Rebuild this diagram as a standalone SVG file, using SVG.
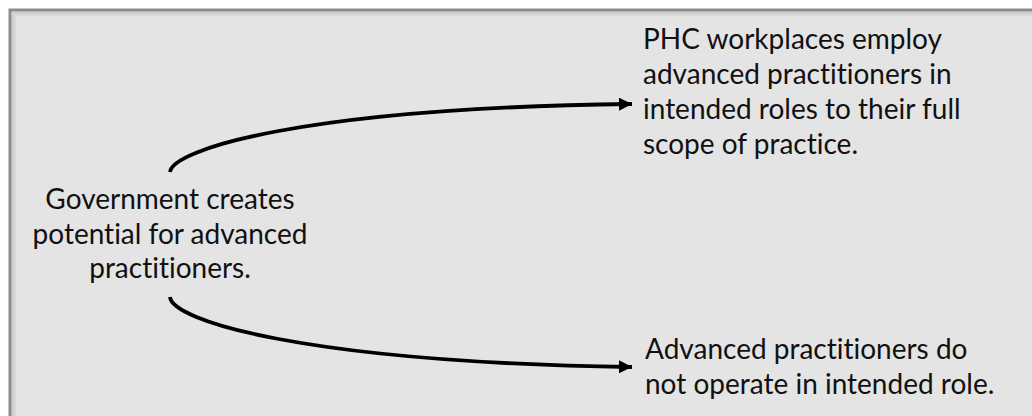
<svg xmlns="http://www.w3.org/2000/svg" width="1032" height="416" viewBox="0 0 1032 416">
  <style>
    .lbl { font-family: Lato, "Liberation Sans", sans-serif; font-size: 28px; fill: #111; font-variant-ligatures: none; font-feature-settings: "liga" 0, "dlig" 0; }
    .mid { text-anchor: middle; }
    .conn { fill: none; stroke: #000; stroke-width: 3.8; marker-end: url(#head); }
  </style>
  <defs>
    <marker id="head" viewBox="0 0 13 13" refX="13" refY="6.5" markerWidth="13" markerHeight="13" markerUnits="userSpaceOnUse" orient="auto">
      <path d="M0,0 L13,6.5 L0,13 Z" fill="#000"/>
    </marker>
  </defs>

  <!-- panel -->
  <rect width="1032" height="416" fill="#fff"/>
  <rect x="10" y="10" width="1040" height="430" fill="#e4e4e4"/>
  <!-- inner shading along top and left edges -->
  <path d="M13,440 V13 H1040" fill="none" stroke="#cfcfcf" stroke-width="2"/>
  <path d="M15,440 V15 H1040" fill="none" stroke="#d9d9d9" stroke-width="2"/>
  <path d="M10,440 V10 H1040" fill="none" stroke="#8c8c8c" stroke-width="3"/>

  <g id="connectors">
    <path class="conn" d="M170,172 C172,150 300,108 632,104"/>
    <path class="conn" d="M170,297 C172,320 300,362 632,367"/>
  </g>

  <g id="node-government">
    <text class="lbl mid" x="170" y="209">Government creates</text>
    <text class="lbl mid" x="170" y="244">potential for advanced</text>
    <text class="lbl mid" x="170" y="278">practitioners.</text>
  </g>

  <g id="node-full-scope">
    <text class="lbl" x="643" y="49">PHC workplaces employ</text>
    <text class="lbl" x="643" y="84">advanced practitioners in</text>
    <text class="lbl" x="643" y="119">intended roles to their full</text>
    <text class="lbl" x="643" y="154">scope of practice.</text>
  </g>

  <g id="node-not-intended">
    <text class="lbl" x="645" y="359">Advanced practitioners do</text>
    <text class="lbl" x="645" y="394">not operate in intended role.</text>
  </g>
</svg>
